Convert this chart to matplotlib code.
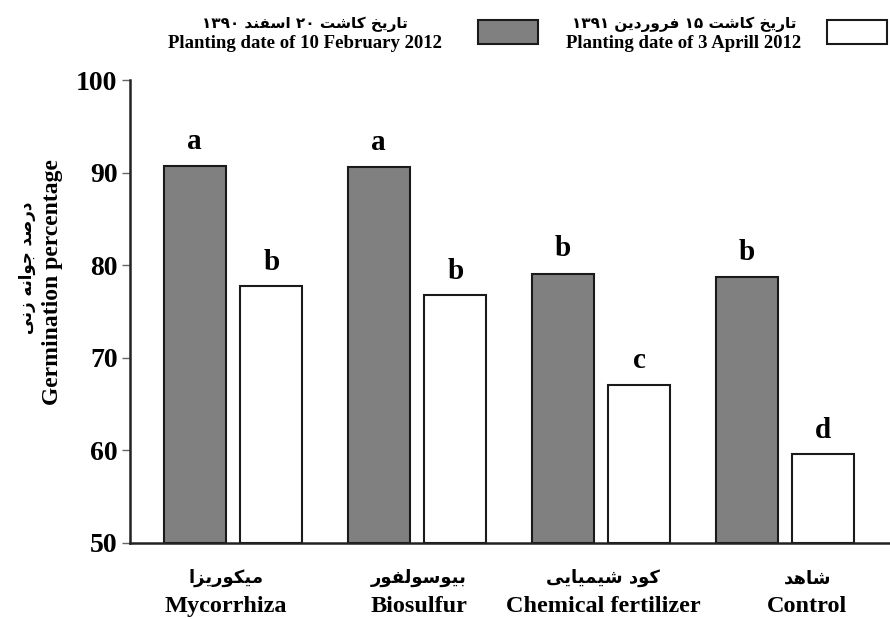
import matplotlib
matplotlib.use("Agg")
import matplotlib.pyplot as plt
import numpy as np
from matplotlib.patches import Rectangle
from matplotlib.transforms import blended_transform_factory

# ---------------- data ----------------
categories_en = ["Mycorrhiza", "Biosulfur", "Chemical fertilizer", "Control"]
categories_fa = ["میکوریزا", "بیوسولفور", "کود شیمیایی", "شاهد"]
feb_values = [90.7, 90.6, 79.1, 78.7]
apr_values = [77.7, 76.8, 67.1, 59.6]
feb_letters = ["a", "a", "b", "b"]
apr_letters = ["b", "b", "c", "d"]
series_en = ["Planting date of 10 February 2012", "Planting date of 3 Aprill 2012"]
series_fa = ["تاریخ کاشت ۲۰ اسفند ۱۳۹۰", "تاریخ کاشت ۱۵ فروردین ۱۳۹۱"]
series_colors = ["#808080", "white"]
ylabel_en = "Germination percentage"
ylabel_fa = "درصد جوانه زنی"
yticks = [50, 60, 70, 80, 90, 100]

# ------------- minimal Persian shaping (presentation forms, visual order) -------------
FORMS = {
    'ا': ('\uFE8D', '\uFE8E'),
    'ب': ('\uFE8F', '\uFE90', '\uFE91', '\uFE92'),
    'ت': ('\uFE95', '\uFE96', '\uFE97', '\uFE98'),
    'ج': ('\uFE9D', '\uFE9E', '\uFE9F', '\uFEA0'),
    'خ': ('\uFEA5', '\uFEA6', '\uFEA7', '\uFEA8'),
    'د': ('\uFEA9', '\uFEAA'),
    'ر': ('\uFEAD', '\uFEAE'),
    'ز': ('\uFEAF', '\uFEB0'),
    'س': ('\uFEB1', '\uFEB2', '\uFEB3', '\uFEB4'),
    'ش': ('\uFEB5', '\uFEB6', '\uFEB7', '\uFEB8'),
    'ص': ('\uFEB9', '\uFEBA', '\uFEBB', '\uFEBC'),
    'ف': ('\uFED1', '\uFED2', '\uFED3', '\uFED4'),
    'ل': ('\uFEDD', '\uFEDE', '\uFEDF', '\uFEE0'),
    'م': ('\uFEE1', '\uFEE2', '\uFEE3', '\uFEE4'),
    'ن': ('\uFEE5', '\uFEE6', '\uFEE7', '\uFEE8'),
    'ه': ('\uFEE9', '\uFEEA', '\uFEEB', '\uFEEC'),
    'و': ('\uFEED', '\uFEEE'),
    'ک': ('\uFB8E', '\uFB8F', '\uFB90', '\uFB91'),
    'ی': ('\uFBFC', '\uFBFD', '\uFBFE', '\uFBFF'),
}


def shape_word(w):
    out = []
    for i, c in enumerate(w):
        if c not in FORMS:
            out.append(c)
            continue
        f = FORMS[c]
        prev = w[i - 1] if i > 0 else None
        nxt = w[i + 1] if i + 1 < len(w) else None
        jp = prev in FORMS and len(FORMS[prev]) == 4
        jn = nxt in FORMS and len(f) == 4
        if jp and jn:
            out.append(f[3])
        elif jp:
            out.append(f[1])
        elif jn:
            out.append(f[2])
        else:
            out.append(f[0])
    return "".join(out)


def fa(s):
    toks = []
    for t in s.split(" "):
        if any(c in FORMS for c in t):
            toks.append(shape_word(t)[::-1])
        else:
            toks.append(t)
    return " ".join(reversed(toks))


SERIF = "Liberation Serif"
FA_FONT = ["DejaVu Sans"]
W, H = 890, 619

fig = plt.figure(figsize=(8.9, 6.19), dpi=100)
ax = fig.add_axes([130 / W, 1 - 543 / H, 1 - 130 / W, (543 - 80) / H])

x = np.arange(len(categories_en))
off = 0.208
w = 0.337
ax.bar(x - off, np.array(feb_values) - 50, w, bottom=50, color=series_colors[0],
       edgecolor="#1a1a1a", linewidth=1.5)
ax.bar(x + off, np.array(apr_values) - 50, w, bottom=50, color=series_colors[1],
       edgecolor="#1a1a1a", linewidth=1.5)

for xi, v, l in zip(x - off, feb_values, feb_letters):
    ax.text(xi, v + 1.85, l, ha="center", va="baseline", family=SERIF,
            fontweight="bold", fontsize=21)
for xi, v, l in zip(x + off, apr_values, apr_letters):
    ax.text(xi, v + 1.75, l, ha="center", va="baseline", family=SERIF,
            fontweight="bold", fontsize=21)

ax.set_xlim(-0.56, 3.57)
ax.set_ylim(50, 100)
ax.set_yticks(yticks)
ax.set_yticklabels([str(t) for t in yticks], family=SERIF, fontweight="bold", fontsize=20)
ax.tick_params(axis="y", direction="out", length=6, width=1, color="#666666", pad=3)
ax.set_xticks([])
for s in ["top", "right"]:
    ax.spines[s].set_visible(False)
for s in ["left", "bottom"]:
    ax.spines[s].set_linewidth(1.8)
    ax.spines[s].set_color("#222222")

# category labels
label_shift = [-0.04, 0.01, 0.01, 0.12]
tr = blended_transform_factory(ax.transData, ax.transAxes)
for xi, en, f_, sh in zip(x, categories_en, categories_fa, label_shift):
    ax.text(xi + sh, -0.076, fa(f_), transform=tr, ha="center", va="center",
            family=FA_FONT, fontweight="bold", fontsize=13)
    ax.text(xi + sh, -0.137, en, transform=tr, ha="center", va="center",
            family=SERIF, fontweight="bold", fontsize=17.5)

# y labels
fig.text(53 / W, 1 - 282 / H, ylabel_en, rotation=90, ha="center", va="center",
         family=SERIF, fontweight="bold", fontsize=17)
fig.text(27 / W, 1 - 268 / H, fa(ylabel_fa), rotation=90, ha="center", va="center",
         family=FA_FONT, fontweight="bold", fontsize=12)

# legend (manual, right-to-left: text then swatch)
legend_text_x = [305, 684]
legend_box_x = [478, 827]
for i in range(2):
    fig.text(legend_text_x[i] / W, 1 - 24 / H, fa(series_fa[i]), ha="center", va="center",
             family=FA_FONT, fontweight="bold", fontsize=11)
    fig.text(legend_text_x[i] / W, 1 - 43 / H, series_en[i], ha="center", va="center",
             family=SERIF, fontweight="bold", fontsize=13.5)
    fig.add_artist(Rectangle((legend_box_x[i] / W, 1 - 44 / H), 60 / W, 24 / H,
                             transform=fig.transFigure, facecolor=series_colors[i],
                             edgecolor="#1a1a1a", linewidth=1.5))

fig.savefig("out.png", dpi=100)
